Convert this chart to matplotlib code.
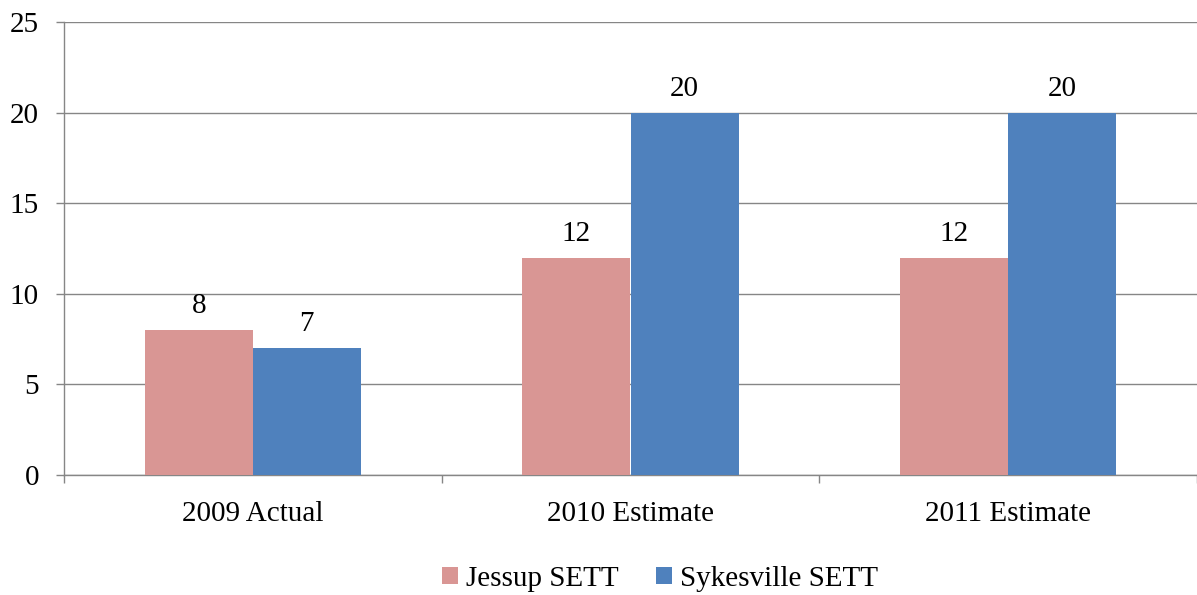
import matplotlib
matplotlib.use("Agg")
import matplotlib.pyplot as plt
import numpy as np

categories = ["2009 Actual", "2010 Estimate", "2011 Estimate"]
series_names = ["Jessup SETT", "Sykesville SETT"]
jessup = [8, 12, 12]
sykesville = [7, 20, 20]
colors = ["#D99694", "#4F81BD"]
yticks = [0, 5, 10, 15, 20, 25]

plt.rcParams['font.family'] = ['Liberation Serif', 'DejaVu Serif']
FS = 21

fig = plt.figure(figsize=(11.97, 5.95), dpi=100)
ax = fig.add_axes([64/1197, 1 - 475/595, 1 - 64/1197, (475 - 22)/595])

x = np.arange(len(categories))
w = 0.286
grid_c = "#868686"
for i, (vals, c, name) in enumerate(zip([jessup, sykesville], colors, series_names)):
    pos = x + (i - 0.5) * w
    bars = ax.bar(pos, vals, width=w, color=c, label=name, zorder=3)
    for b, v in zip(bars, vals):
        ax.annotate(str(v), (b.get_x() + b.get_width() / 2, v), xytext=(0, 12),
                    textcoords="offset points", ha="center", va="baseline", fontsize=FS)

ax.set_xlim(-0.5, len(categories) - 0.5)
ax.set_ylim(0, 25)
ax.set_yticks(yticks)
ax.set_yticklabels([str(t) for t in yticks], fontsize=FS)
ax.yaxis.grid(True, color=grid_c, linewidth=1.0, zorder=0)
ax.set_axisbelow(True)

ax.set_xticks(np.arange(len(categories) + 1) - 0.5)
ax.set_xticklabels([])
ax.set_xticks(x, minor=True)
ax.set_xticklabels(categories, minor=True, fontsize=FS)
ax.tick_params(axis="x", which="minor", length=0, pad=19)
ax.tick_params(axis="x", which="major", length=6, color=grid_c, width=1.0, direction="out")
ax.tick_params(axis="y", length=6, color=grid_c, width=1.0, direction="out", pad=12)

for s in ["top", "right"]:
    ax.spines[s].set_visible(False)
for s in ["left", "bottom"]:
    ax.spines[s].set_color(grid_c)
    ax.spines[s].set_linewidth(1.0)

leg = fig.legend(loc="center", bbox_to_anchor=(660/1197, 1 - 579/595), ncol=2, frameon=False,
                 fontsize=FS, handlelength=0.55, handleheight=0.55, handletextpad=0.3,
                 columnspacing=1.25)

fig.savefig("out.png", dpi=100)
